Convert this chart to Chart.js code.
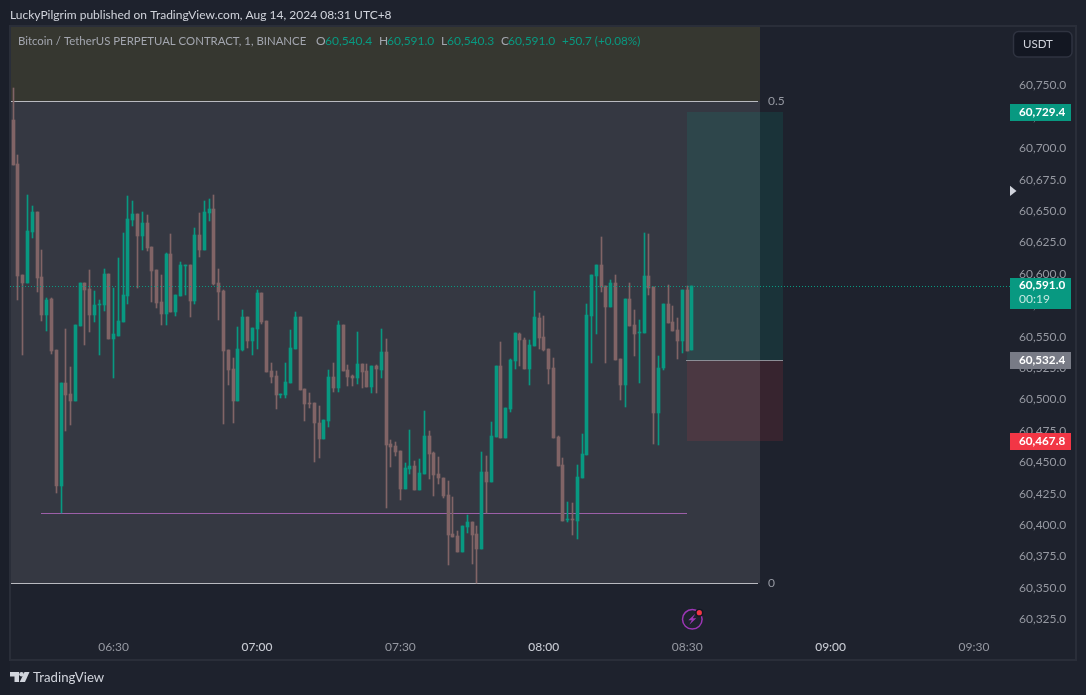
<!DOCTYPE html>
<html>
<head>
<meta charset="utf-8">
<style>
  html, body { margin: 0; padding: 0; background: #1e222d; }
  canvas { display: block; }
</style>
<script src="https://cdn.jsdelivr.net/npm/chart.js@4"></script>
</head>
<body>
<canvas id="chart" width="1086" height="695"></canvas>
<script>
// One-minute BTCUSDT perpetual candles, 06:09 to 08:31
const firstMinute = 369;

const opens = [
60723.3,60688.2,60599.9,60593.5,60634.1,60650.0,60598.3,60568.1,60580.8,60540.2,
60432.0,60513.9,60505.2,60499.6,60559.3,60593.5,60588.8,60568.1,60576.0,60576.0,
60600.7,60549.0,60551.3,60562.5,60583.2,60643.7,60648.4,60630.9,60641.3,60622.2,
60603.9,60578.4,60568.9,60616.6,60570.5,60583.2,60607.1,60607.9,60579.2,60631.7,
60619.8,60649.2,60652.4,60593.5,60587.2,60540.2,60525.1,60499.6,60540.2,60566.5,
60547.4,60556.9,60585.6,60563.3,60523.5,60519.5,60504.4,60504.4,60514.0,60541.0,
60566.5,60509.2,60498.0,60498.0,60482.1,60469.4,60483.7,60518.7,60510.0,60560.1,
60524.3,60519.5,60517.9,60529.1,60523.5,60510.8,60527.5,60524.3,60538.6,60465.4,
60463.8,60459.8,60429.6,60445.5,60447.9,60428.8,60441.5,60471.8,60458.3,60441.5,
60438.4,60424.8,60393.8,60392.2,60379.5,60399.4,60403.3,60393.8,60381.8,60443.1,
60435.2,60471.0,60527.5,60470.2,60493.3,60531.5,60553.0,60548.2,60525.1,60543.4,
60565.7,60550.6,60541.0,60525.9,60471.0,60448.7,60404.9,60405.7,60404.1,60438.4,
60456.7,60567.3,60599.1,60607.9,60591.2,60574.5,60593.6,60533.1,60512.4,60580.8,
60560.1,60553.8,60553.8,60599.1,60590.4,60490.1,60525.9,60576.8,60562.5,60556.2,
60547.4,60588.0,60540.4];

const highs = [
60748.7,60695.4,60599.9,60663.6,60654.8,60650.0,60619.8,60581.6,60581.6,60540.2,
60513.9,60556.9,60526.7,60560.1,60593.5,60593.5,60603.9,60587.2,60580.0,60604.7,
60600.7,60589.6,60613.4,60633.3,60662.8,60658.8,60648.4,60650.0,60647.7,60622.2,
60603.9,60599.9,60617.4,60632.5,60584.0,60610.2,60607.9,60607.9,60637.3,60649.2,
60658.8,60660.4,60663.6,60604.7,60588.0,60540.2,60533.8,60558.5,60572.0,60566.5,
60557.7,60588.0,60585.6,60563.3,60529.9,60523.5,60505.2,60529.9,60556.1,60570.5,
60566.5,60509.2,60506.0,60498.0,60495.7,60484.5,60524.3,60529.9,60563.3,60560.1,
60528.3,60520.3,60554.6,60529.1,60529.1,60527.5,60528.3,60556.9,60549.0,60468.6,
60467.0,60459.8,60450.3,60476.6,60451.9,60453.5,60491.7,60475.8,60459.0,60455.1,
60438.4,60436.0,60423.2,60396.2,60400.1,60408.9,60403.3,60400.1,60459.1,60455.9,
60482.9,60527.5,60546.6,60494.1,60533.1,60553.8,60553.8,60549.8,60548.2,60587.2,
60569.7,60567.3,60541.0,60533.9,60471.8,60454.3,60419.3,60418.5,60448.7,60473.4,
60576.8,60599.9,60607.9,60630.2,60591.2,60595.9,60599.9,60533.1,60580.8,60593.6,
60572.1,60564.1,60633.4,60632.6,60590.4,60535.5,60576.8,60592.0,60575.3,60565.7,
60588.0,60591.2,60591.0];

const lows = [
60687.4,60580.0,60536.2,60593.5,60629.3,60586.4,60563.3,60555.3,60537.0,60426.4,
60410.2,60475.7,60480.5,60499.6,60559.3,60544.2,60554.5,60562.5,60536.2,60571.2,
60549.0,60517.9,60551.3,60562.5,60576.8,60638.9,60589.6,60619.8,60619.0,60578.4,
60573.6,60560.1,60560.1,60570.5,60567.3,60583.2,60584.0,60566.5,60576.8,60614.2,
60619.8,60642.9,60591.9,60564.1,60481.3,60512.3,60482.1,60499.6,60539.4,60541.8,
60536.2,60541.0,60560.9,60522.7,60514.0,60493.3,60502.0,60502.0,60514.0,60541.0,
60508.4,60483.7,60494.1,60451.1,60454.3,60469.4,60478.9,60506.8,60506.8,60523.5,
60511.6,60511.6,60513.2,60510.0,60510.8,60506.0,60506.0,60517.9,60414.5,60447.1,
60455.9,60420.8,60429.6,60441.5,60428.8,60428.8,60441.5,60437.6,60424.0,60433.6,
60422.4,60369.1,60391.4,60379.5,60379.5,60394.6,60369.9,60354.5,60381.8,60410.2,
60435.2,60471.0,60470.2,60470.2,60490.9,60525.1,60527.5,60525.1,60512.4,60543.4,
60541.0,60539.4,60513.2,60470.2,60447.9,60404.1,60403.3,60393.0,60389.8,60438.4,
60456.7,60529.9,60553.0,60586.4,60529.9,60574.5,60532.3,60500.4,60494.9,60559.3,
60535.5,60514.0,60553.8,60584.0,60465.4,60464.6,60524.3,60561.7,60555.4,60533.1,
60537.8,60539.4,60540.3];

const closes = [
60687.4,60599.1,60593.5,60634.9,60650.0,60597.5,60568.1,60580.0,60539.4,60432.0,
60513.9,60504.4,60499.6,60560.1,60593.5,60588.0,60568.1,60576.0,60576.8,60600.7,
60549.0,60552.9,60563.3,60584.0,60644.5,60648.4,60630.9,60641.3,60621.4,60603.1,
60577.6,60568.9,60616.6,60570.5,60584.0,60607.9,60607.9,60579.2,60631.7,60619.8,
60650.0,60652.4,60592.7,60586.4,60539.4,60524.3,60499.6,60541.0,60566.5,60547.4,
60557.7,60585.6,60562.5,60522.7,60518.7,60504.4,60505.2,60514.8,60541.8,60566.5,
60508.4,60497.2,60497.2,60482.1,60469.4,60484.5,60518.7,60510.0,60560.1,60523.5,
60518.7,60517.9,60529.1,60522.7,60510.8,60527.5,60525.1,60538.6,60464.6,60463.0,
60459.0,60429.6,60446.3,60447.9,60428.8,60442.3,60471.8,60457.5,60440.7,60438.4,
60424.0,60393.0,60391.4,60379.5,60400.1,60403.3,60393.0,60381.9,60443.1,60435.2,
60471.8,60527.5,60470.2,60494.1,60532.3,60553.8,60548.2,60525.1,60544.2,60566.5,
60549.8,60540.2,60525.1,60470.2,60447.9,60404.1,60405.7,60404.9,60439.2,60457.5,
60568.1,60599.9,60607.9,60590.4,60574.5,60593.6,60532.3,60512.4,60580.8,60559.3,
60553.0,60554.6,60599.1,60589.6,60490.1,60525.9,60576.8,60561.7,60555.4,60547.4,
60588.0,60539.4,60591.0];

const priceTicks = [60325,60350,60375,60400,60425,60450,60475,60500,60525,60550,60575,60600,60625,60650,60675,60700,60725,60750];
const timeTickMinutes = [390,420,450,480,510,540,570];
const timeTickLabels = ['06:30','07:00','07:30','08:00','08:30','09:00','09:30'];

// Drawing tools on the chart, in price and minute units
const fibHalfPrice = 60738.1;
const fibZeroPrice = 60354.5;
const fibEndMinute = 525.2;
const supportPrice = 60410.2;
const supportStart = 374.9;
const supportEnd = 510;
const lastPrice = 60591.0;
const entryPrice = 60532.4;
const targetPrice = 60729.4;
const stopPrice = 60467.8;
const positionStart = 510;
const positionEnd = 530;

const UP = '#089981';
const DOWN = '#816466';
const FONT = 'Lato, sans-serif';

const minutes = opens.map((_, i) => firstMinute + i);
const candleColors = opens.map((o, i) => closes[i] >= o ? UP : DOWN);
const wickData = minutes.map((m, i) => ({ x: m, y: [lows[i], highs[i]] }));
const bodyData = minutes.map((m, i) => ({ x: m, y: [Math.min(opens[i], closes[i]), Math.max(opens[i], closes[i])] }));
const formatPrice = v => v.toLocaleString('en-US', { minimumFractionDigits: 1, maximumFractionDigits: 1 });
const isHourTick = ctx => !!ctx.tick && ctx.tick.value % 60 === 0;

// Keeps candles on whole pixels so bodies and wicks stay crisp
const pixelSnap = {
  id: 'pixelSnap',
  afterDatasetsUpdate(chart) {
    chart.data.datasets.forEach((ds, d) => {
      chart.getDatasetMeta(d).data.forEach(bar => {
        bar.x = Math.floor(bar.x) + 0.5;
        bar.width = ds.barThickness;
        bar.y = Math.round(bar.y);
        bar.base = Math.round(bar.base);
        if (Math.abs(bar.base - bar.y) < 1) bar.base = bar.y + 1;
      });
    });
  }
};

// Page background, panel frame, fib zones and the long position box
const underlay = {
  id: 'underlay',
  beforeDraw(chart) {
    const { ctx, width, height, chartArea: a, scales: { x, y } } = chart;
    ctx.save();
    ctx.fillStyle = '#1e222d';
    ctx.fillRect(0, 0, width, height);
    ctx.fillStyle = '#1b1f2a';
    ctx.fillRect(0, 0, 10, height);

    const fibRight = Math.round(x.getPixelForValue(fibEndMinute));
    const half = Math.round(y.getPixelForValue(fibHalfPrice));
    const zero = Math.round(y.getPixelForValue(fibZeroPrice));
    ctx.fillStyle = '#363730';
    ctx.fillRect(10, a.top, fibRight - 10, half - a.top);
    ctx.fillStyle = '#353842';
    ctx.fillRect(10, half, fibRight - 10, zero - half);

    ctx.fillStyle = '#b9bac0';
    ctx.fillRect(10, half, fibRight - 12, 1);
    ctx.fillRect(10, zero, fibRight - 12, 1);

    ctx.fillStyle = '#9c5fa8';
    const sx0 = Math.round(x.getPixelForValue(supportStart));
    const sx1 = Math.round(x.getPixelForValue(supportEnd));
    ctx.fillRect(sx0, Math.round(y.getPixelForValue(supportPrice)), sx1 - sx0, 1);

    const px0 = Math.round(x.getPixelForValue(positionStart));
    const px1 = Math.round(x.getPixelForValue(positionEnd));
    const tgt = Math.round(y.getPixelForValue(targetPrice));
    const ent = Math.round(y.getPixelForValue(entryPrice));
    const stp = Math.round(y.getPixelForValue(stopPrice));
    ctx.fillStyle = 'rgba(8,153,129,0.15)';
    ctx.fillRect(px0, tgt, px1 - px0, ent - tgt);
    ctx.fillStyle = 'rgba(242,54,69,0.12)';
    ctx.fillRect(px0, ent, px1 - px0, stp - ent);
    ctx.fillStyle = '#8b8e96';
    ctx.fillRect(px0 - 1, ent, px1 - px0 + 1, 1);

    ctx.strokeStyle = '#2a2e39';
    ctx.lineWidth = 2;
    ctx.strokeRect(10, 26, 1066, 634);
    ctx.restore();
  }
};

function priceTag(ctx, x, top, h, bg) {
  ctx.fillStyle = bg;
  ctx.fillRect(x, top, 61, h);
}

function drawLogo(ctx) {
  ctx.fillStyle = '#d1d4dc';
  // T stem
  ctx.beginPath();
  ctx.moveTo(10, 672); ctx.lineTo(19, 672); ctx.lineTo(19, 682); ctx.lineTo(14.5, 682); ctx.lineTo(14.5, 676.5); ctx.lineTo(10, 676.5);
  ctx.closePath(); ctx.fill();
  // Dot
  ctx.beginPath(); ctx.arc(21.5, 674.3, 2.3, 0, Math.PI * 2); ctx.fill();
  // Slanted V stroke
  ctx.beginPath();
  ctx.moveTo(24.5, 672); ctx.lineTo(29.5, 672); ctx.lineTo(25, 682); ctx.lineTo(19.7, 682);
  ctx.closePath(); ctx.fill();
  ctx.font = '13.2px ' + FONT;
  ctx.textBaseline = 'middle';
  ctx.fillText('TradingView', 33, 677.5);
}

function drawBolt(ctx) {
  const cx = 692.3, cy = 619.3;
  ctx.strokeStyle = '#9c36b5';
  ctx.lineWidth = 1.5;
  ctx.beginPath(); ctx.arc(cx, cy, 9.8, 0, Math.PI * 2); ctx.stroke();
  ctx.fillStyle = '#9c36b5';
  ctx.beginPath();
  ctx.moveTo(cx + 3, cy - 5.5); ctx.lineTo(cx - 4, cy + 1); ctx.lineTo(cx - 0.5, cy + 1);
  ctx.lineTo(cx - 3, cy + 5.5); ctx.lineTo(cx + 4, cy - 1); ctx.lineTo(cx + 0.5, cy - 1);
  ctx.closePath(); ctx.fill();
  ctx.fillStyle = '#131722';
  ctx.beginPath(); ctx.arc(699.3, 612.7, 4, 0, Math.PI * 2); ctx.fill();
  ctx.fillStyle = '#f23645';
  ctx.beginPath(); ctx.arc(699.3, 612.7, 2.6, 0, Math.PI * 2); ctx.fill();
}

// Last-price line, price tags, header texts and branding
const overlay = {
  id: 'overlay',
  afterDraw(chart) {
    const { ctx, chartArea: a, scales: { x, y } } = chart;
    ctx.save();
    const lastY = Math.round(y.getPixelForValue(lastPrice));
    ctx.strokeStyle = UP;
    ctx.lineWidth = 1;
    ctx.setLineDash([1, 2]);
    ctx.beginPath();
    ctx.moveTo(10, lastY + 0.5);
    ctx.lineTo(a.right, lastY + 0.5);
    ctx.stroke();
    ctx.setLineDash([]);

    ctx.textBaseline = 'middle';
    ctx.textAlign = 'left';

    const half = y.getPixelForValue(fibHalfPrice);
    const zero = y.getPixelForValue(fibZeroPrice);
    ctx.font = '12px ' + FONT;
    ctx.fillStyle = '#9598a1';
    ctx.fillText('0.5', 768, half);
    ctx.fillText('0', 768, zero);

    const tagX = a.right;
    const textX = tagX + 9;
    const tgtY = y.getPixelForValue(targetPrice);
    const entY = y.getPixelForValue(entryPrice);
    const stpY = y.getPixelForValue(stopPrice);
    priceTag(ctx, tagX, Math.round(tgtY) - 8, 17, UP);
    priceTag(ctx, tagX, lastY - 8, 31, UP);
    priceTag(ctx, tagX, Math.round(entY) - 8, 17, '#787b86');
    priceTag(ctx, tagX, Math.round(stpY) - 8, 17, '#f23645');
    ctx.font = 'bold 11.7px ' + FONT;
    ctx.fillStyle = '#ffffff';
    ctx.fillText(formatPrice(targetPrice), textX, tgtY);
    ctx.fillText(formatPrice(lastPrice), textX, lastY - 1);
    ctx.fillText(formatPrice(entryPrice), textX, entY);
    ctx.fillText(formatPrice(stopPrice), textX, stpY);
    ctx.font = '12px ' + FONT;
    ctx.fillStyle = '#c4e8e0';
    ctx.fillText('00:19', textX, lastY + 13.5);

    // Marker for the visible-range arrow on the price scale
    ctx.fillStyle = '#d1d4dc';
    ctx.beginPath();
    ctx.moveTo(1010, 185.7); ctx.lineTo(1016.5, 191); ctx.lineTo(1010, 196);
    ctx.closePath(); ctx.fill();

    // Currency button
    ctx.fillStyle = '#131722';
    ctx.strokeStyle = '#2f3340';
    ctx.lineWidth = 1.5;
    ctx.beginPath();
    ctx.roundRect(1013.5, 31.5, 58.5, 25.5, 5);
    ctx.fill(); ctx.stroke();
    ctx.fillStyle = '#d1d4dc';
    ctx.font = '11.5px ' + FONT;
    ctx.fillText('USDT', 1023, 44.5);

    // Publication line
    ctx.font = '12px ' + FONT;
    ctx.fillStyle = '#d1d4dc';
    ctx.fillText('LuckyPilgrim published on TradingView.com, Aug 14, 2024 08:31 UTC+8', 10, 15.5);

    // Symbol legend
    ctx.font = '11.4px ' + FONT;
    ctx.fillStyle = '#a3a6af';
    ctx.fillText('Bitcoin / TetherUS PERPETUAL CONTRACT, 1, BINANCE', 18, 41.5);
    ctx.font = '12px ' + FONT;
    const legendPairs = [
      ['O', 316, '60,540.4', 325], ['H', 379, '60,591.0', 387],
      ['L', 441, '60,540.3', 447], ['C', 501, '60,591.0', 508]
    ];
    legendPairs.forEach(([letter, lx, value, vx]) => {
      ctx.fillStyle = '#a3a6af';
      ctx.fillText(letter, lx, 41.5);
      ctx.fillStyle = UP;
      ctx.fillText(value, vx, 41.5);
    });
    ctx.font = '11.7px ' + FONT;
    ctx.fillText('+50.7 (+0.08%)', 562, 41.5);

    drawBolt(ctx);
    drawLogo(ctx);
    ctx.restore();
  }
};

new Chart(document.getElementById('chart'), {
  type: 'bar',
  data: {
    datasets: [
      { label: 'Wick', data: wickData, backgroundColor: candleColors, barThickness: 1, grouped: false, order: 2, borderWidth: 0 },
      { label: 'Body', data: bodyData, backgroundColor: candleColors, barThickness: 3, grouped: false, order: 1, borderWidth: 0, minBarLength: 1 }
    ]
  },
  options: {
    responsive: false,
    animation: false,
    layout: { padding: { left: 11, top: 27, right: 10, bottom: 35 } },
    plugins: { legend: { display: false }, tooltip: { enabled: false } },
    events: [],
    scales: {
      x: {
        type: 'linear',
        min: 368.536,
        max: 577.53,
        offset: false,
        grid: { display: false, drawTicks: false, tickLength: 0 },
        border: { display: false },
        afterBuildTicks(scale) { scale.ticks = timeTickMinutes.map(value => ({ value })); },
        afterFit(scale) { scale.height = 28; },
        ticks: {
          autoSkip: false,
          maxRotation: 0,
          padding: 8,
          color: ctx => isHourTick(ctx) ? '#c5c8d0' : '#9598a1',
          font: ctx => ({ family: FONT, size: 12, weight: isHourTick(ctx) ? '500' : 'normal' }),
          callback: value => timeTickLabels[timeTickMinutes.indexOf(value)]
        }
      },
      y: {
        position: 'right',
        min: 60315.76,
        max: 60797.27,
        grid: { display: false, drawTicks: false },
        border: { display: false },
        afterBuildTicks(scale) { scale.ticks = priceTicks.map(value => ({ value })); },
        afterFit(scale) { scale.width = 66; },
        ticks: {
          autoSkip: false,
          padding: 9,
          crossAlign: 'near',
          labelOffset: -1,
          color: '#9598a1',
          font: { family: FONT, size: 12 },
          callback: value => formatPrice(value)
        }
      }
    }
  },
  plugins: [pixelSnap, underlay, overlay]
});
</script>
</body>
</html>
